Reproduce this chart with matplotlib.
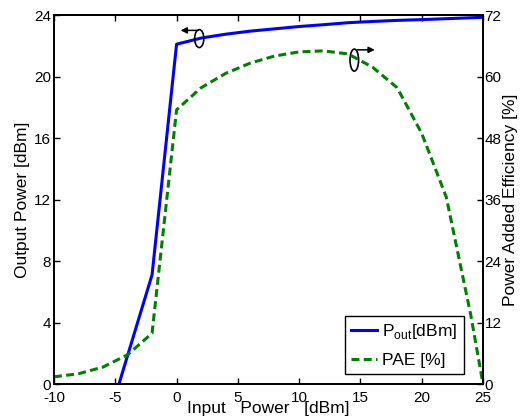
import matplotlib.pyplot as plt
from matplotlib.patches import Ellipse

# data
pin_pout = [-4.7, -2, 0, 2, 4, 6, 8, 10, 12, 14, 16, 18, 20, 22, 25]
pout = [0.0, 7.1, 22.1, 22.5, 22.75, 22.95, 23.1, 23.25, 23.37, 23.5, 23.58, 23.65, 23.7, 23.76, 23.85]

pin_pae = [-10, -8, -6, -4, -2, 0, 2, 4, 6, 8, 10, 12, 14, 16, 18, 20, 22, 24, 25]
pae = [1.4, 2.0, 3.3, 5.7, 9.9, 53.5, 57.8, 60.6, 62.6, 64.0, 64.8, 65.0, 64.4, 61.8, 57.8, 48.9, 36.5, 13.5, 0.0]

xticks = [-10, -5, 0, 5, 10, 15, 20, 25]
yticks_left = [0, 4, 8, 12, 16, 20, 24]
yticks_right = [0, 12, 24, 36, 48, 60, 72]

plt.rcParams['font.family'] = ['Liberation Sans', 'DejaVu Sans']
plt.rcParams['font.size'] = 11
plt.rcParams['axes.unicode_minus'] = False

fig = plt.figure(figsize=(5.24, 4.19), dpi=100)
ax = fig.add_axes([54 / 524, 1 - 384 / 419, 429 / 524, 369 / 419])
ax2 = ax.twinx()

l1, = ax.plot(pin_pout, pout, color='#0000ff', lw=2.2, label='P$_{\\mathregular{out}}$[dBm]')
l2, = ax2.plot(pin_pae, pae, color='#008000', lw=2.2, ls=(0, (2.6, 1.4)), label='PAE [%]')

ax.set_xlim(-10, 25)
ax.set_ylim(0, 24)
ax2.set_ylim(0, 72)
ax.set_xticks(xticks)
ax.set_yticks(yticks_left)
ax2.set_yticks(yticks_right)

for a in (ax, ax2):
    a.tick_params(direction='in', length=4, width=1, pad=2, labelsize=11)
    for s in a.spines.values():
        s.set_linewidth(1.3)
ax.tick_params(top=True)
ax.tick_params(axis='x', pad=5)
ax2.tick_params(pad=1)

ax.set_xlabel('Input   Power   [dBm]', fontsize=12.5, labelpad=-3)
ax.set_ylabel('Output Power [dBm]', fontsize=12.5, labelpad=3)
ax2.set_ylabel('Power Added Efficiency [%]', fontsize=12.5, labelpad=1)

# ellipse + arrow markers (drawn on PAE axis)
ax2.add_patch(Ellipse((1.85, 67.4), 0.75, 3.5, fill=False, lw=1.2, color='k'))
ax2.annotate('', xy=(0.1, 69.0), xytext=(2.0, 69.0),
             arrowprops=dict(arrowstyle='-|>', color='k', lw=1.1, mutation_scale=9))
ax2.add_patch(Ellipse((14.5, 63.2), 0.7, 4.3, fill=False, lw=1.2, color='k'))
ax2.annotate('', xy=(16.4, 65.2), xytext=(14.5, 65.2),
             arrowprops=dict(arrowstyle='-|>', color='k', lw=1.1, mutation_scale=9))

leg = ax2.legend([l1, l2], [l1.get_label(), l2.get_label()], loc='lower right',
                 bbox_to_anchor=(0.955, 0.028), fancybox=False, edgecolor='k',
                 framealpha=1, handlelength=1.5, borderpad=0.35, labelspacing=0.65,
                 handletextpad=0.3, borderaxespad=0, fontsize=12.5)
leg.get_frame().set_linewidth(1.0)

fig.savefig('out.png', dpi=100)
